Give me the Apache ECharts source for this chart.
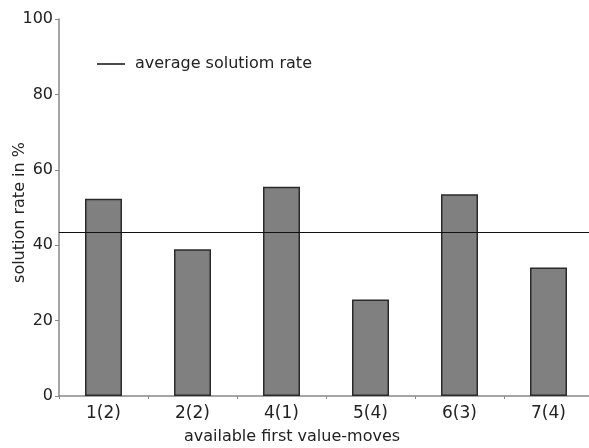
<!DOCTYPE html>
<html>
<head>
<meta charset="utf-8">
<script src="https://cdn.jsdelivr.net/npm/echarts@6/dist/echarts.min.js"></script>
<style>html,body{margin:0;padding:0;background:#fff}#c{width:589px;height:448px}</style>
</head>
<body>
<div id="c"></div>
<script>
var categories = ['1(2)', '2(2)', '4(1)', '5(4)', '6(3)', '7(4)'];
var solutionRates = [52.3, 38.9, 55.5, 25.6, 53.5, 34.1];
var averageRate = 43.5;
var yTicks = [0, 20, 40, 60, 80, 100];

var font = 'DejaVu Sans';
var chart = echarts.init(document.getElementById('c'));
chart.setOption({
  animation: false,
  backgroundColor: '#fff',
  textStyle: { fontFamily: font },
  grid: { left: 59, top: 19, bottom: 52, width: 534, containLabel: false, outerBoundsMode: 'none' },
  legend: {
    left: 92, top: 51,
    itemWidth: 28, itemHeight: 1.5,
    icon: 'rect',
    data: ['average solutiom rate'],
    textStyle: { fontFamily: font, fontSize: 16, color: '#222', padding: [0, 0, 0, 5] }
  },
  xAxis: {
    type: 'category',
    data: categories,
    name: 'available first value-moves',
    nameLocation: 'middle',
    nameGap: 33,
    nameMoveOverlap: false,
    nameTextStyle: { fontFamily: font, fontSize: 16, color: '#222', padding: [0, 68, 0, 0] },
    axisLine: { lineStyle: { color: '#888', width: 1.5 } },
    axisTick: { show: true, length: 3, lineStyle: { color: '#888' } },
    axisLabel: { fontFamily: font, fontSize: 17, color: '#222', margin: 9 },
    splitLine: { show: false }
  },
  yAxis: {
    type: 'value',
    min: yTicks[0], max: yTicks[yTicks.length - 1], interval: 20,
    name: 'solution rate in %',
    nameLocation: 'middle',
    nameGap: 31,
    nameMoveOverlap: false,
    nameTextStyle: { fontFamily: font, fontSize: 16, color: '#222', padding: [0, 10, 0, 0] },
    axisLine: { show: true, lineStyle: { color: '#888', width: 1.5 } },
    axisTick: { show: true, length: 4, lineStyle: { color: '#888' } },
    axisLabel: { fontFamily: font, fontSize: 16, color: '#222', margin: 6 },
    splitLine: { show: false }
  },
  series: [
    {
      type: 'bar',
      name: 'rate',
      data: solutionRates,
      barWidth: 37,
      itemStyle: { color: '#808080', borderColor: '#2a2a2a', borderWidth: 1.5 }
    },
    {
      type: 'line',
      name: 'average solutiom rate',
      data: [],
      symbol: 'none',
      lineStyle: { color: '#111', width: 1.2 },
      itemStyle: { color: '#111' },
      markLine: {
        silent: true,
        symbol: ['none', 'none'],
        label: { show: false },
        lineStyle: { color: '#111', width: 1.2, type: 'solid' },
        data: [{ yAxis: averageRate }]
      }
    }
  ]
});
</script>
</body>
</html>
